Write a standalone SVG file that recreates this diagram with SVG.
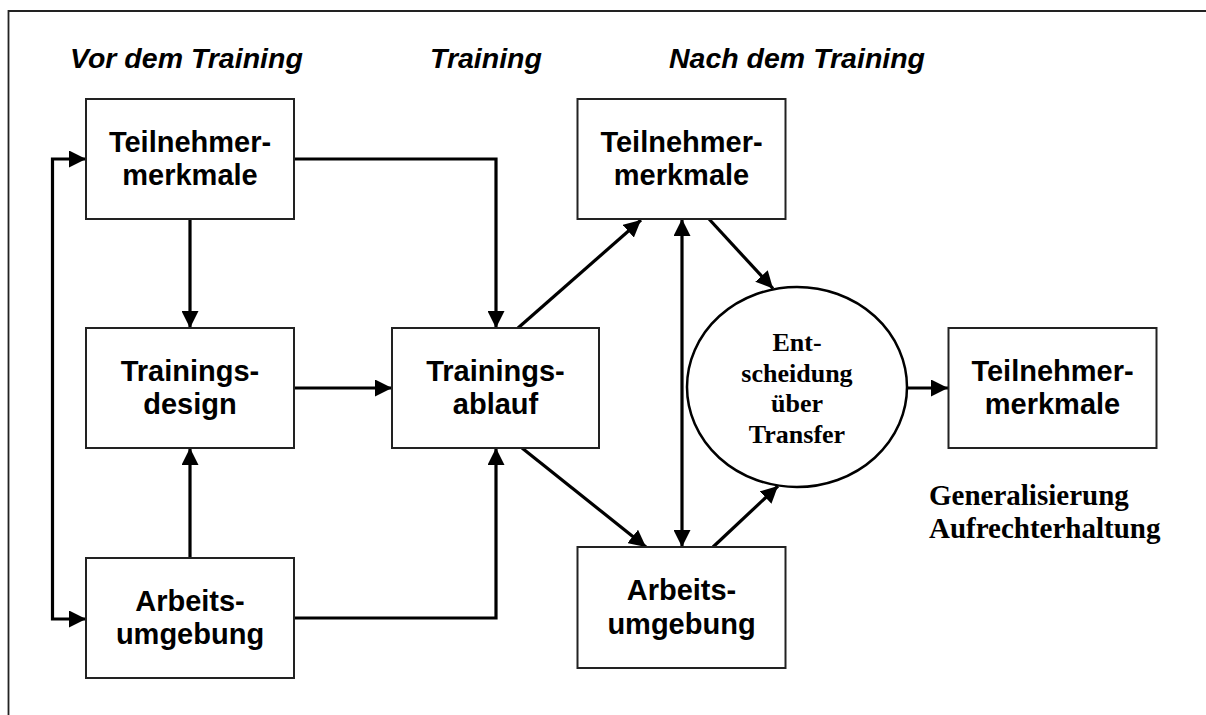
<svg xmlns="http://www.w3.org/2000/svg" width="1206" height="715" viewBox="0 0 1206 715">
  <style>
    .frame { fill: none; stroke: #222; stroke-width: 1.8; }
    .box { fill: #fff; stroke: #222; stroke-width: 2; }
    .oval { fill: #fff; stroke: #000; stroke-width: 2.5; }
    .lbl { font-family: "Liberation Sans", Arial, sans-serif; font-weight: bold; font-size: 29px; fill: #000; text-anchor: middle; }
    .phase { font-family: "Liberation Sans", Arial, sans-serif; font-weight: bold; font-style: italic; font-size: 28.5px; fill: #000; }
    .serif { font-family: "Liberation Serif", "Times New Roman", serif; font-weight: bold; fill: #000; }
    .edge { fill: none; stroke: #000; stroke-width: 3.2; }
  </style>
  <defs>
    <marker id="arrow" viewBox="0 0 17 17" refX="17" refY="8.5" markerUnits="userSpaceOnUse" markerWidth="17" markerHeight="17" orient="auto-start-reverse">
      <path d="M0,0 L17,8.5 L0,17 Z" fill="#000"/>
    </marker>
  </defs>

  <rect width="1206" height="715" fill="#fff"/>
  <!-- outer frame, open to the right and bottom -->
  <path class="frame" d="M8.5,715 V11 H1206"/>

  <!-- phase headings -->
  <g id="headings">
    <text class="phase" x="70" y="68">Vor dem Training</text>
    <text class="phase" x="430" y="68">Training</text>
    <text class="phase" x="669" y="68">Nach dem Training</text>
  </g>

  <!-- connectors -->
  <g id="connectors">
    <path class="edge" d="M86,159 H52.5 V619 H86" marker-start="url(#arrow)" marker-end="url(#arrow)"/>
    <path class="edge" d="M294,159 H496 V328" marker-end="url(#arrow)"/>
    <path class="edge" d="M190,219 V328" marker-end="url(#arrow)"/>
    <path class="edge" d="M190,558 V448" marker-end="url(#arrow)"/>
    <path class="edge" d="M294,388 H392" marker-end="url(#arrow)"/>
    <path class="edge" d="M294,618 H496 V448" marker-end="url(#arrow)"/>
    <path class="edge" d="M518,328 L641,220" marker-end="url(#arrow)"/>
    <path class="edge" d="M522,448 L646,547" marker-end="url(#arrow)"/>
    <path class="edge" d="M682,219 V547" marker-start="url(#arrow)" marker-end="url(#arrow)"/>
    <path class="edge" d="M709,219 L773,288.5" marker-end="url(#arrow)"/>
    <path class="edge" d="M713,547 L778,486" marker-end="url(#arrow)"/>
    <path class="edge" d="M907,388 H948" marker-end="url(#arrow)"/>
  </g>

  <g id="teilnehmer-vor">
    <rect class="box" x="86" y="99" width="208" height="120"/>
    <text class="lbl" x="190" y="151.5">Teilnehmer-</text>
    <text class="lbl" x="190" y="185">merkmale</text>
  </g>

  <g id="trainingsdesign">
    <rect class="box" x="86" y="328" width="208" height="120"/>
    <text class="lbl" x="190" y="380.5">Trainings-</text>
    <text class="lbl" x="190" y="414">design</text>
  </g>

  <g id="arbeitsumgebung-vor">
    <rect class="box" x="86" y="558" width="208" height="120"/>
    <text class="lbl" x="190" y="610.5">Arbeits-</text>
    <text class="lbl" x="190" y="644">umgebung</text>
  </g>

  <g id="trainingsablauf">
    <rect class="box" x="392" y="328" width="207" height="120"/>
    <text class="lbl" x="495.5" y="380.5">Trainings-</text>
    <text class="lbl" x="495.5" y="414">ablauf</text>
  </g>

  <g id="teilnehmer-nach">
    <rect class="box" x="577.5" y="99" width="208" height="120"/>
    <text class="lbl" x="681.5" y="151.5">Teilnehmer-</text>
    <text class="lbl" x="681.5" y="185">merkmale</text>
  </g>

  <g id="arbeitsumgebung-nach">
    <rect class="box" x="577.5" y="547" width="208" height="121"/>
    <text class="lbl" x="681.5" y="600">Arbeits-</text>
    <text class="lbl" x="681.5" y="634">umgebung</text>
  </g>

  <g id="entscheidung">
    <ellipse class="oval" cx="797" cy="387" rx="110" ry="100"/>
    <text class="serif" x="797" y="351" font-size="26" text-anchor="middle">Ent-</text>
    <text class="serif" x="797" y="381.5" font-size="26" text-anchor="middle">scheidung</text>
    <text class="serif" x="797" y="412" font-size="26" text-anchor="middle">über</text>
    <text class="serif" x="797" y="442.5" font-size="26" text-anchor="middle">Transfer</text>
  </g>

  <g id="teilnehmer-transfer">
    <rect class="box" x="948.5" y="328" width="208" height="120"/>
    <text class="lbl" x="1052.5" y="380.5">Teilnehmer-</text>
    <text class="lbl" x="1052.5" y="414">merkmale</text>
  </g>

  <g id="transfer-ergebnis">
    <text class="serif" x="929" y="505" font-size="29">Generalisierung</text>
    <text class="serif" x="929" y="538" font-size="29">Aufrechterhaltung</text>
  </g>
</svg>
